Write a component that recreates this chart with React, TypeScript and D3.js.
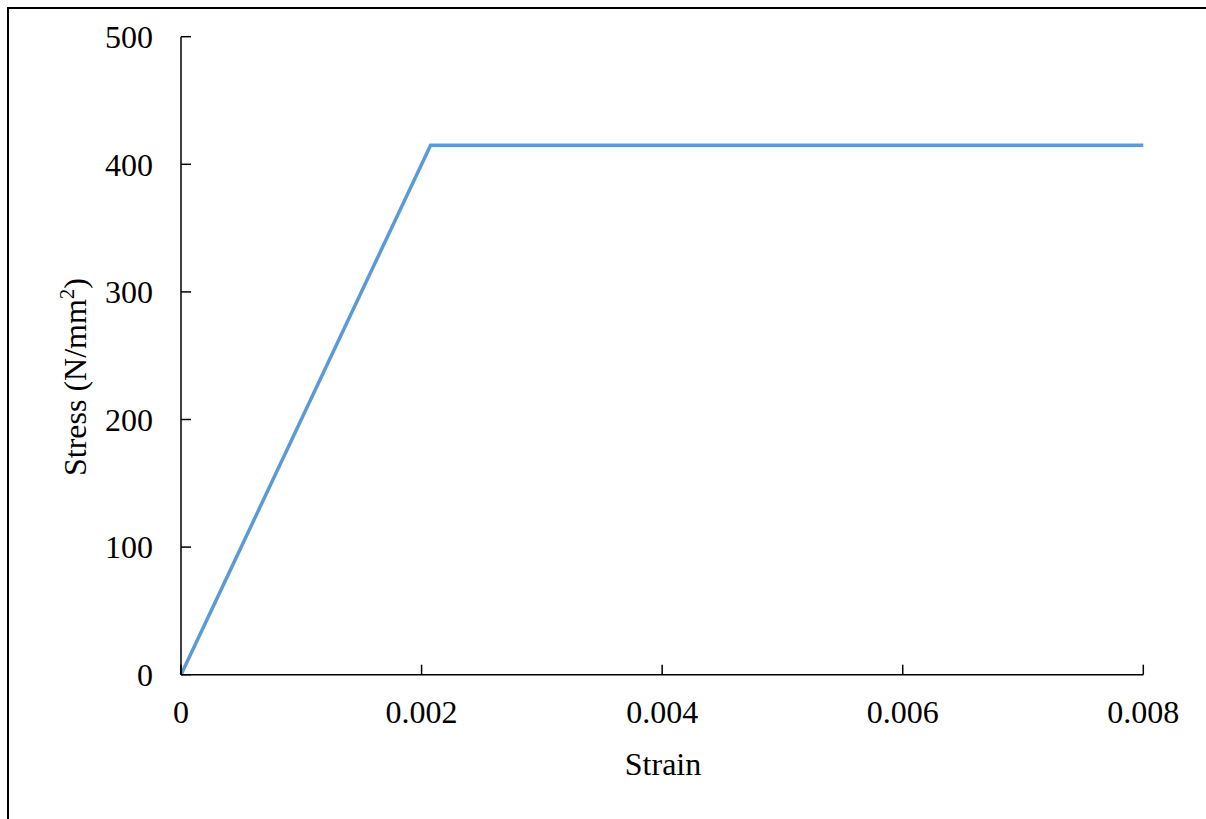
import React from "react";
import * as d3 from "d3";

// Elastic–perfectly-plastic steel stress–strain curve
const strainValues: number[] = [0, 0.002075, 0.008];
const stressValues: number[] = [0, 415, 415];

const xTicks: number[] = [0, 0.002, 0.004, 0.006, 0.008];
const yTicks: number[] = [0, 100, 200, 300, 400, 500];
const xTickLabels: string[] = ["0", "0.002", "0.004", "0.006", "0.008"];
const yTickLabels: string[] = ["0", "100", "200", "300", "400", "500"];

const W = 1206;
const H = 819;
const FONT = "Liberation Serif, Times New Roman, Times, serif";

export default function App() {
  const x = d3.scaleLinear().domain([0, 0.008]).range([181, 1143.3]);
  const y = d3.scaleLinear().domain([0, 500]).range([674.7, 36.7]);

  const points: [number, number][] = strainValues.map((s, i) => [s, stressValues[i]]);
  const line = d3
    .line<[number, number]>()
    .x((d) => x(d[0]))
    .y((d) => y(d[1]));

  const tickLen = 10;
  const fs = 32;
  const textStyle = { fontFamily: FONT, fontSize: fs } as React.CSSProperties;

  return (
    <svg
      width={W}
      height={H}
      style={{ display: "block", position: "fixed", left: 0, top: 0 }}
    >
      <rect x={0} y={0} width={W} height={H} fill="#fff" />
      {/* chart frame: only the top and left edges fall inside the view */}
      <line x1={8} x2={8} y1={7} y2={H} stroke="#000" strokeWidth={2} />
      <line x1={7} x2={W} y1={8} y2={8} stroke="#000" strokeWidth={2} />

      {/* series */}
      <path d={line(points) || ""} fill="none" stroke="#5B9BD5" strokeWidth={3.5} strokeLinejoin="miter" />

      {/* y axis */}
      <line x1={x(0)} x2={x(0)} y1={y(500)} y2={y(0)} stroke="#000" strokeWidth={1.5} />
      {yTicks.map((t, i) => (
        <g key={"y" + t}>
          <line x1={x(0)} x2={x(0) + tickLen} y1={y(t)} y2={y(t)} stroke="#000" strokeWidth={1.5} />
          <text x={x(0) - 28} y={y(t)} dy="0.35em" textAnchor="end" style={textStyle} fill="#000">
            {yTickLabels[i]}
          </text>
        </g>
      ))}

      {/* x axis */}
      <line x1={x(0)} x2={x(0.008)} y1={y(0)} y2={y(0)} stroke="#000" strokeWidth={1.5} />
      {xTicks.map((t, i) => (
        <g key={"x" + t}>
          <line x1={x(t)} x2={x(t)} y1={y(0)} y2={y(0) - tickLen} stroke="#000" strokeWidth={1.5} />
          <text x={x(t)} y={723} textAnchor="middle" style={textStyle} fill="#000">
            {xTickLabels[i]}
          </text>
        </g>
      ))}

      {/* axis titles */}
      <text x={663} y={775} textAnchor="middle" style={textStyle} fill="#000">
        Strain
      </text>
      <text transform="translate(86,377) rotate(-90)" textAnchor="middle" style={textStyle} fill="#000">
        Stress (N/mm<tspan dy={-12} style={{ fontSize: 21 }}>2</tspan>
        <tspan dy={12}>)</tspan>
      </text>
    </svg>
  );
}
